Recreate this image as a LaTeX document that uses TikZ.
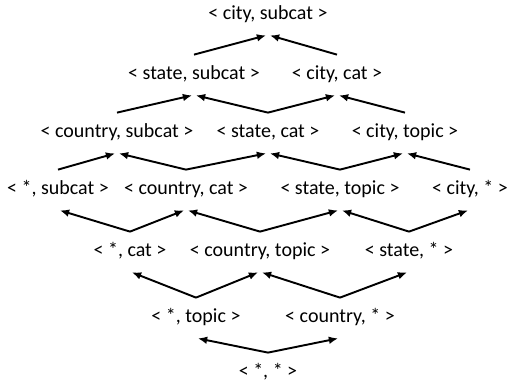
\documentclass[tikz,border=0pt]{standalone}
\usepackage{fontspec}
\setmainfont{Carlito}
\usetikzlibrary{arrows.meta}
\tikzset{
  pair/.style={inner sep=0pt,minimum height=20.8pt,text height=0.75em,text depth=0.25em,font=\fontsize{10.4}{12}\selectfont},
  up/.style={line width=1pt,-{Latex[length=4.8pt,width=4pt]}}
}

\begin{document}
\begin{tikzpicture}[x=0.52pt,y=-0.52pt]
  \useasboundingbox (0,0) rectangle (508,383);
  % lattice levels, top to bottom
  \node[pair] (cs) at (268,15) {< city, subcat >};
  \node[pair] (ss) at (194,75) {< state, subcat >};
  \node[pair] (cc) at (337,75) {< city, cat >};
  \node[pair] (cos) at (117,133) {< country, subcat >};
  \node[pair] (sc) at (268,133) {< state, cat >};
  \node[pair] (ct) at (405,133) {< city, topic >};
  \node[pair] (xs) at (58,190) {< *, subcat >};
  \node[pair] (coc) at (186,190) {< country, cat >};
  \node[pair] (st) at (340,190) {< state, topic >};
  \node[pair] (cx) at (470,190) {< city, * >};
  \node[pair] (xc) at (130,252) {< *, cat >};
  \node[pair] (cot) at (260,252) {< country, topic >};
  \node[pair] (sx) at (409,252) {< state, * >};
  \node[pair] (xt) at (196,318) {< *, topic >};
  \node[pair] (cox) at (340,318) {< country, * >};
  \node[pair] (xx) at (268,373) {< *, * >};
  % arrows coming in from the lower left
  \foreach \a/\b in {ss/cs,cos/ss,sc/cc,xs/cos,coc/sc,st/ct,xc/coc,cot/st,sx/cx,xt/cot,cox/sx,xx/cox}
      \draw[up] (\a.north) -- ([xshift=-1pt]\b.south);
  % arrows coming in from the lower right
  \foreach \a/\b in {cc/cs,sc/ss,ct/cc,coc/cos,st/sc,cx/ct,xc/xs,cot/coc,sx/st,xt/xc,cox/cot,xx/xt}
      \draw[up] (\a.north) -- ([xshift=1pt]\b.south);
\end{tikzpicture}
\end{document}
